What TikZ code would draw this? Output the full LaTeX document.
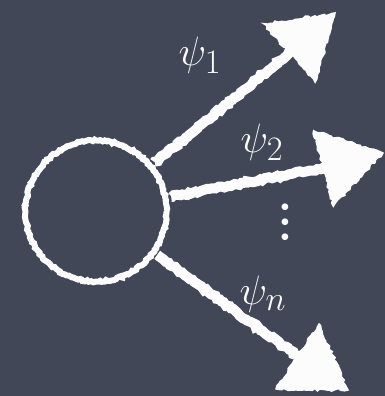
\documentclass[tikz,border=0pt]{standalone}
\usepackage{fontspec}
\setmainfont{Liberation Serif}
\usetikzlibrary{decorations.pathmorphing,calc}
\definecolor{board}{RGB}{66,71,87}
\definecolor{chalk}{RGB}{252,252,252}
\newcommand\biglbl[1]{\scalebox{1.65}{\Huge$#1$}}
\begin{document}
\begin{tikzpicture}[x=1pt,y=-1pt,
  chalkring/.style={circle, draw=chalk, line width=6pt, minimum size=141pt, inner sep=0pt,
    decorate, decoration={random steps, segment length=2pt, amplitude=0.9pt}},
  shaft/.style={draw=chalk, line width=10pt, shorten <=3pt,
    decorate, decoration={random steps, segment length=3pt, amplitude=1.2pt}},
  head/.style={fill=chalk, draw=chalk, line width=1.5pt,
    decorate, decoration={random steps, segment length=3pt, amplitude=1.4pt}},
  lbl/.style={text=chalk, inner sep=0pt}]
\fill[board] (0,0) rectangle (385,396);
\useasboundingbox (0,0) rectangle (385,396);
\node[chalkring] (c) at (96,211) {};
\coordinate (t1) at (335,13);  \coordinate (b1) at (289.5,53);
\coordinate (t2) at (383,153); \coordinate (b2) at (323.5,168.5);
\coordinate (t3) at (348,390); \coordinate (b3) at (297.5,356.5);
\foreach \i in {1,2,3}{
  \draw[shaft] (c) -- ($(b\i)!8pt!(t\i)$);
  \path[head] (t\i) -- ($(b\i)!39pt!90:(t\i)$) -- ($(b\i)!39pt!-90:(t\i)$) -- cycle;
}
\node[lbl] (p1) at (200,55) {\biglbl{\psi_1}};
\node[lbl] (p2) at (262,142) {\biglbl{\psi_2}};
\node[lbl] (pn) at (263,294) {\biglbl{\psi_n}};
\node[text=chalk, font=\fontsize{28}{15}\selectfont, inner sep=0pt] (dots) at (285,225)
  {\vbox{\baselineskip=15pt\hbox{•}\hbox{•}\hbox{•}}};
\end{tikzpicture}
\end{document}
